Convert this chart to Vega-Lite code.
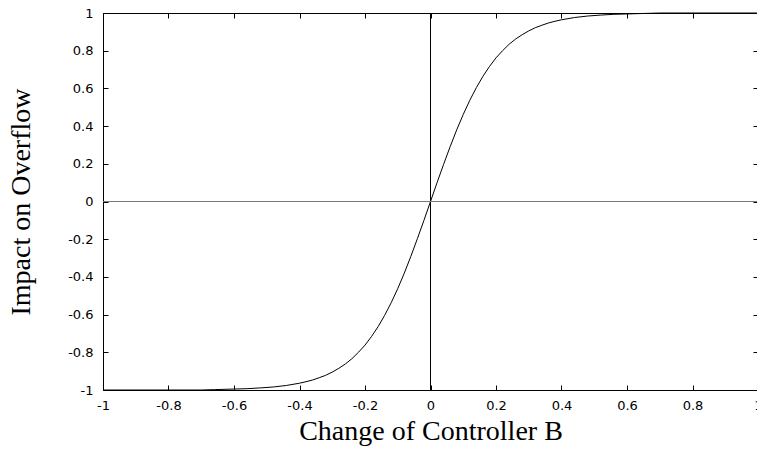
{
  "$schema": "https://vega.github.io/schema/vega-lite/v6.json",
  "width": 655,
  "height": 377,
  "autosize": {"type": "none"},
  "padding": {"left": 103, "top": 13, "right": 0, "bottom": 59},
  "background": "white",
  "config": {
    "view": {"stroke": null},
    "axis": {
      "grid": false,
      "domainColor": "black",
      "tickColor": "black",
      "labelColor": "black",
      "labelFont": "DejaVu Sans",
      "labelFontSize": 13,
      "titleFont": "Liberation Serif",
      "titleFontSize": 28,
      "titleFontWeight": "normal",
      "titleColor": "black",
      "domainWidth": 1,
      "tickWidth": 1
    }
  },
  "data": {
    "values": [
      {"x": -1.0, "y": -1.0},
      {"x": -0.7, "y": -1.0},
      {"x": -0.66, "y": -0.998},
      {"x": -0.6, "y": -0.995},
      {"x": -0.56, "y": -0.993},
      {"x": -0.52, "y": -0.989},
      {"x": -0.48, "y": -0.984},
      {"x": -0.44, "y": -0.976},
      {"x": -0.4, "y": -0.964},
      {"x": -0.38, "y": -0.956},
      {"x": -0.36, "y": -0.947},
      {"x": -0.34, "y": -0.935},
      {"x": -0.32, "y": -0.922},
      {"x": -0.3, "y": -0.905},
      {"x": -0.28, "y": -0.885},
      {"x": -0.26, "y": -0.862},
      {"x": -0.24, "y": -0.834},
      {"x": -0.22, "y": -0.8},
      {"x": -0.2, "y": -0.762},
      {"x": -0.18, "y": -0.716},
      {"x": -0.16, "y": -0.664},
      {"x": -0.14, "y": -0.604},
      {"x": -0.12, "y": -0.537},
      {"x": -0.1, "y": -0.462},
      {"x": -0.08, "y": -0.38},
      {"x": -0.06, "y": -0.291},
      {"x": -0.04, "y": -0.197},
      {"x": -0.02, "y": -0.1},
      {"x": 0.0, "y": 0.0},
      {"x": 0.02, "y": 0.1},
      {"x": 0.04, "y": 0.197},
      {"x": 0.06, "y": 0.291},
      {"x": 0.08, "y": 0.38},
      {"x": 0.1, "y": 0.462},
      {"x": 0.12, "y": 0.537},
      {"x": 0.14, "y": 0.604},
      {"x": 0.16, "y": 0.664},
      {"x": 0.18, "y": 0.716},
      {"x": 0.2, "y": 0.762},
      {"x": 0.22, "y": 0.8},
      {"x": 0.24, "y": 0.834},
      {"x": 0.26, "y": 0.862},
      {"x": 0.28, "y": 0.885},
      {"x": 0.3, "y": 0.905},
      {"x": 0.32, "y": 0.922},
      {"x": 0.34, "y": 0.935},
      {"x": 0.36, "y": 0.947},
      {"x": 0.38, "y": 0.956},
      {"x": 0.4, "y": 0.964},
      {"x": 0.44, "y": 0.976},
      {"x": 0.48, "y": 0.984},
      {"x": 0.52, "y": 0.989},
      {"x": 0.56, "y": 0.993},
      {"x": 0.6, "y": 0.995},
      {"x": 0.66, "y": 0.998},
      {"x": 0.7, "y": 1.0},
      {"x": 1.0, "y": 1.0}
    ]
  },
  "resolve": {"axis": {"x": "independent", "y": "independent"}},
  "layer": [
    {
      "mark": {"type": "line", "color": "black", "strokeWidth": 1},
      "encoding": {
        "x": {
          "field": "x", "type": "quantitative",
          "scale": {"domain": [-1, 1], "nice": false, "zero": false},
          "axis": {
            "orient": "bottom",
            "title": "Change of Controller B",
            "values": [-1, -0.8, -0.6, -0.4, -0.2, 0, 0.2, 0.4, 0.6, 0.8, 1],
            "labelExpr": "'' + datum.value",
            "tickSize": -5,
            "labelPadding": 14,
            "titlePadding": 5,
            "labelFlush": false,
            "labelOverlap": false
          }
        },
        "y": {
          "field": "y", "type": "quantitative",
          "scale": {"domain": [-1, 1], "nice": false, "zero": false},
          "axis": {
            "orient": "left",
            "title": "Impact on Overflow",
            "values": [-1, -0.8, -0.6, -0.4, -0.2, 0, 0.2, 0.4, 0.6, 0.8, 1],
            "labelExpr": "'' + datum.value",
            "tickSize": -5,
            "labelPadding": 15,
            "titlePadding": 32,
            "labelFlush": false,
            "labelOverlap": false
          }
        }
      }
    },
    {
      "mark": {"type": "rule", "color": "black", "strokeWidth": 1},
      "encoding": {
        "x": {
          "datum": 0, "type": "quantitative",
          "axis": {
            "orient": "top",
            "title": null,
            "labels": false,
            "values": [-1, -0.8, -0.6, -0.4, -0.2, 0, 0.2, 0.4, 0.6, 0.8, 1],
            "tickSize": -5
          }
        }
      }
    },
    {
      "mark": {"type": "rule", "color": "#7a7a7a", "strokeWidth": 1.2},
      "encoding": {
        "y": {
          "datum": 0, "type": "quantitative",
          "axis": {
            "orient": "right",
            "title": null,
            "labels": false,
            "values": [-1, -0.8, -0.6, -0.4, -0.2, 0, 0.2, 0.4, 0.6, 0.8, 1],
            "tickSize": -5
          }
        }
      }
    }
  ]
}
